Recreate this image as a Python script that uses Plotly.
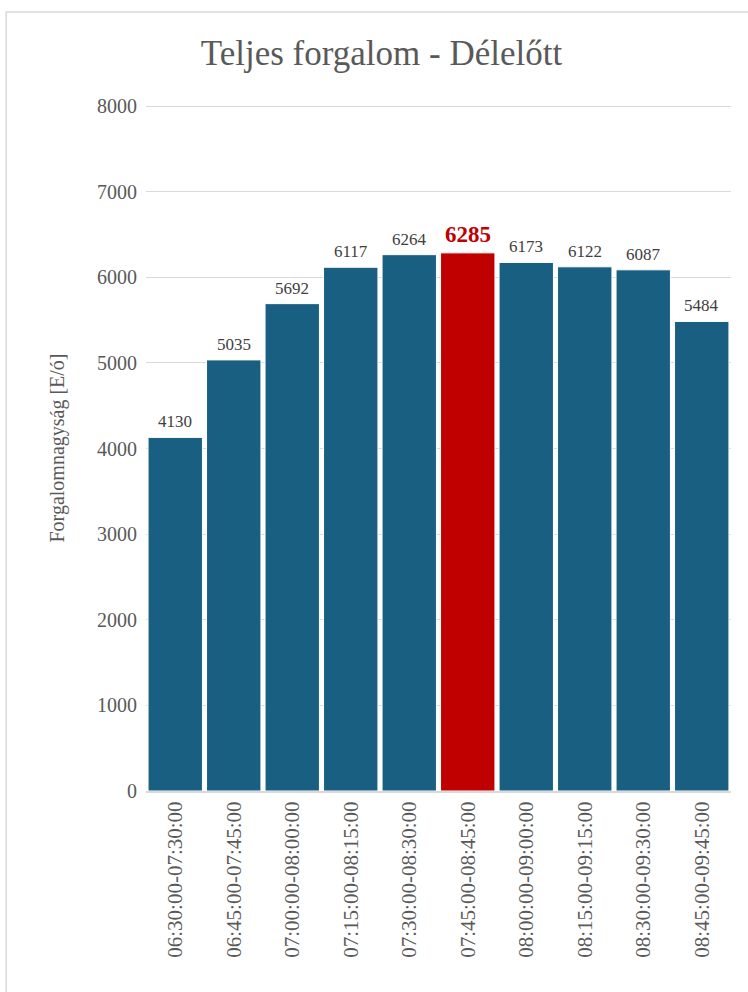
import plotly.graph_objects as go

categories = ["06:30:00-07:30:00", "06:45:00-07:45:00", "07:00:00-08:00:00",
              "07:15:00-08:15:00", "07:30:00-08:30:00", "07:45:00-08:45:00",
              "08:00:00-09:00:00", "08:15:00-09:15:00", "08:30:00-09:30:00",
              "08:45:00-09:45:00"]
values = [4130, 5035, 5692, 6117, 6264, 6285, 6173, 6122, 6087, 5484]
peak_index = 5

base_color = "#185F82"
peak_color = "#C00000"
serif = "Liberation Serif, Times New Roman, serif"

colors = [peak_color if i == peak_index else base_color for i in range(len(values))]

fig = go.Figure(go.Bar(
    x=categories, y=values,
    marker=dict(color=colors, line=dict(color="white", width=1)),
    cliponaxis=False,
    hoverinfo="skip",
))

# data labels
annotations = []
for i, (c, v) in enumerate(zip(categories, values)):
    if i == peak_index:
        font = dict(family=serif, size=23, color=peak_color, weight="bold")
    else:
        font = dict(family=serif, size=17, color="#404040")
    annotations.append(dict(x=c, y=v, text=str(v), showarrow=False,
                            yanchor="bottom", yshift=4, font=font))

fig.update_layout(
    width=748, height=992,
    margin=dict(l=146, r=17, t=105, b=201),
    paper_bgcolor="white", plot_bgcolor="white",
    bargap=0.07,
    title=dict(text="Teljes forgalom - Délelőtt", x=0.51, xanchor="center",
               y=0.947, yanchor="middle",
               font=dict(family=serif, size=35, color="#595959")),
    annotations=annotations,
    showlegend=False,
    font=dict(family=serif, color="#595959"),
    shapes=[dict(type="rect", xref="paper", yref="paper",
                 x0=-0.239, x1=1.2, y0=-0.5, y1=1.1356,
                 line=dict(color="#D9D9D9", width=1.5), layer="below")],
)
fig.update_yaxes(range=[0, 8012], tickvals=[0, 1000, 2000, 3000, 4000, 5000, 6000, 7000, 8000],
                 showgrid=True, gridcolor="#D9D9D9",
                 gridwidth=1, zeroline=False, showline=False,
                 ticklabelstandoff=8,
                 tickfont=dict(family=serif, size=20, color="#595959"),
                 title=dict(text="Forgalomnagyság [E/ó]", standoff=27,
                            font=dict(family=serif, size=20, color="#595959")))
fig.update_xaxes(tickangle=-90, showline=True, linecolor="#D9D9D9", linewidth=2,
                 tickfont=dict(family=serif, size=21, color="#595959"),
                 ticks="")

fig.write_html("out.html")
